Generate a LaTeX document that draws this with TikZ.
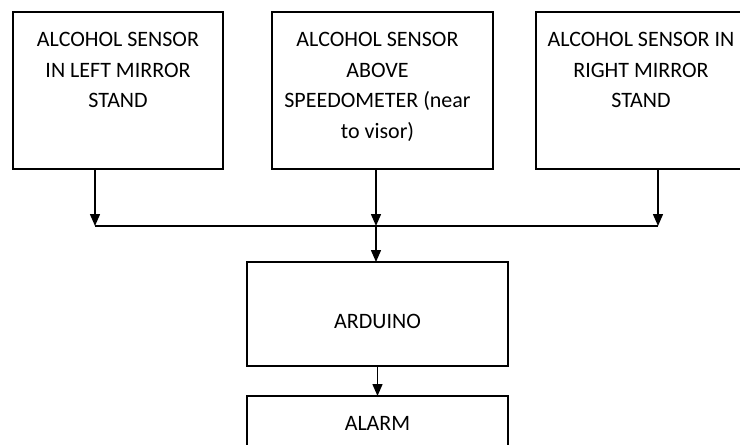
\documentclass[tikz,border=0pt]{standalone}
\usepackage{fontspec}
\setmainfont{Carlito}
\usetikzlibrary{arrows.meta, positioning}
\tikzset{BlockDiagram/.style={
    x = 0.5pt, y = -0.5pt,
    box/.style = {draw, line width=1pt, inner sep=0pt, outer sep=0pt, font=\fontsize{11}{15.25}\selectfont},
    sensor/.style = {box, minimum width=105pt, minimum height=78.5pt},
    caption/.style = {align=center, inner sep=0pt, font=\fontsize{11}{15.25}\selectfont},
    link/.style = {line width=0.75pt},
    arrow/.style = {link, -{Triangle[length=6pt, width=5pt]}}
}}

\begin{document}
\begin{tikzpicture}[BlockDiagram]
    \useasboundingbox (0,0) rectangle (740,445);
    \clip (0,0) rectangle (740,445);

    % sensors
    \node [sensor, anchor=north west] (left) at (13,12) {};
    \node [sensor, minimum width=110.5pt, right=24.5pt of left] (mid) {};
    \node [sensor, right=21.5pt of mid] (right) {};

    \node [caption, below=10pt of left.north] (leftText) {
        ALCOHOL SENSOR\\ IN LEFT MIRROR\\ STAND
    };
    \node [caption, below=10pt of mid.north, xshift=-2.5pt] (midText) {
        ALCOHOL SENSOR\\ ABOVE\\ SPEEDOMETER (near\\ to visor)
    };
    \node [caption, below=10pt of right.north] (rightText) {
        ALCOHOL SENSOR IN\\ RIGHT MIRROR\\ STAND
    };

    % controller and output
    \node [box, minimum width=130.5pt, minimum height=52pt, text height=14pt, text depth=0pt,
        anchor=north] (arduino) at (377.5,262) {ARDUINO};
    \node [box, minimum width=130.5pt, minimum height=27pt, below=15pt of arduino] (alarm) {ALARM};

    % bus
    \coordinate (busL) at (95,226);
    \coordinate (busM) at (376,226);
    \coordinate (busR) at (658,226);
    \draw [link] (busL) -- (busR);
    \draw [arrow] (left.south -| busL) -- (busL);
    \draw [arrow] (mid.south -| busM) -- (busM);
    \draw [arrow] (right.south -| busR) -- (busR);
    \draw [arrow] (busM) -- (arduino.north -| busM);
    \draw [arrow] (arduino) -- (alarm);
\end{tikzpicture}
\end{document}
